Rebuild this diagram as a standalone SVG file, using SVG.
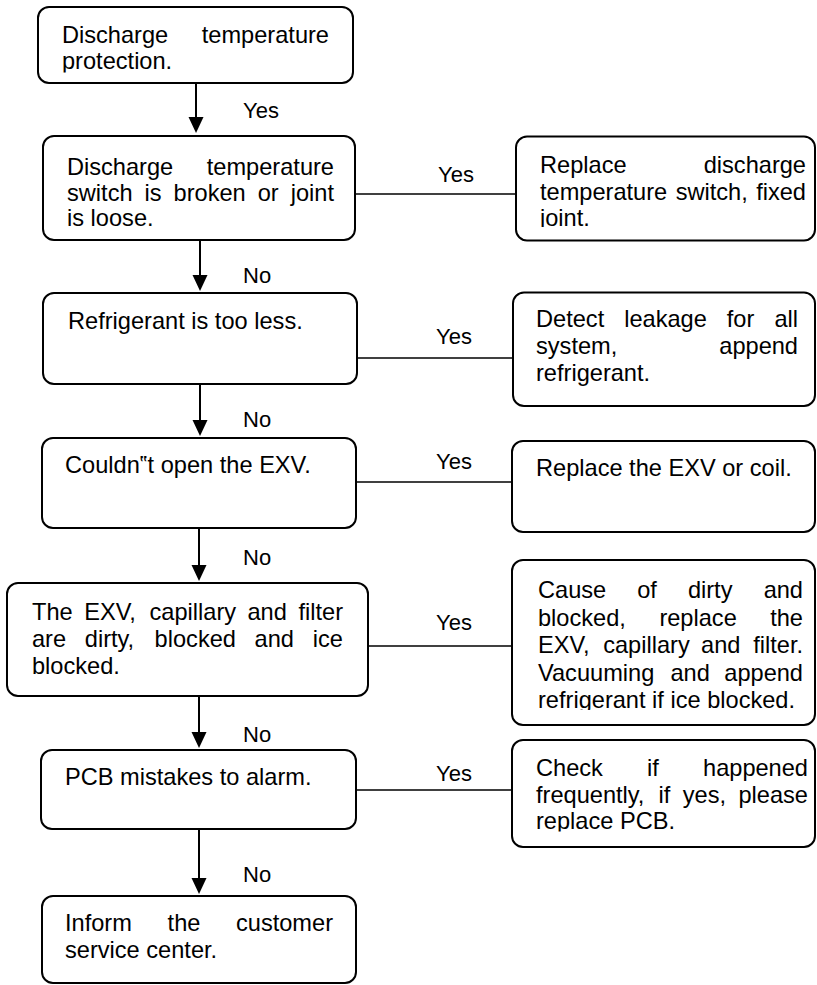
<svg xmlns="http://www.w3.org/2000/svg" width="817" height="985" viewBox="0 0 817 985">
<style>
.box{fill:#fff;stroke:#000;stroke-width:2}
.t{font-family:"Liberation Sans",Arial,sans-serif;font-size:23.6px;fill:#000}
.lbl{font-family:"Liberation Sans",Arial,sans-serif;font-size:22px;fill:#000}
.e{text-anchor:end}
.arrow{stroke:#000;stroke-width:2;fill:none;marker-end:url(#ah)}
.h{stroke:#000;stroke-width:1.6;fill:none}
</style>
<defs>
<marker id="ah" markerUnits="userSpaceOnUse" markerWidth="16" markerHeight="16" refX="8" refY="8" orient="auto">
<path d="M0,0.5 L16,8 L0,15.5 z" fill="#000"/>
</marker>
<clipPath id="c1"><rect x="38" y="7" width="315" height="65.5"/></clipPath>
<clipPath id="c2"><rect x="43" y="136" width="312" height="91.5"/></clipPath>
<clipPath id="c3"><rect x="516" y="136" width="300" height="91"/></clipPath>
<clipPath id="c4"><rect x="512" y="560" width="304" height="150"/></clipPath>
<clipPath id="c5"><rect x="512" y="740" width="304" height="91.5"/></clipPath>
</defs>
<rect width="817" height="985" fill="#fff"/>

<g id="connectors">
<line class="arrow" x1="196" y1="83" x2="196" y2="125"/>
<line class="arrow" x1="200" y1="240" x2="200" y2="283"/>
<line class="arrow" x1="200" y1="384" x2="200" y2="428"/>
<line class="arrow" x1="199" y1="528" x2="199" y2="573"/>
<line class="arrow" x1="199" y1="696" x2="199" y2="740"/>
<line class="arrow" x1="199" y1="829" x2="199" y2="886"/>
<line class="h" x1="355" y1="194" x2="516" y2="194"/>
<line class="h" x1="357" y1="358" x2="513" y2="358"/>
<line class="h" x1="356" y1="482" x2="512" y2="482"/>
<line class="h" x1="368" y1="646" x2="512" y2="646"/>
<line class="h" x1="356" y1="790" x2="512" y2="790"/>
<text class="lbl" x="243" y="118">Yes</text>
<text class="lbl" x="243" y="283">No</text>
<text class="lbl" x="243" y="427">No</text>
<text class="lbl" x="243" y="565">No</text>
<text class="lbl" x="243" y="742">No</text>
<text class="lbl" x="243" y="882">No</text>
<text class="lbl" x="438" y="182">Yes</text>
<text class="lbl" x="436" y="344">Yes</text>
<text class="lbl" x="436" y="469">Yes</text>
<text class="lbl" x="436" y="630">Yes</text>
<text class="lbl" x="436" y="781">Yes</text>
</g>

<g id="n1">
<rect class="box" x="38" y="7" width="315" height="76" rx="11"/>
<g clip-path="url(#c1)">
<text class="t" x="62" y="42.5">Discharge</text>
<text class="t e" x="329" y="42.5">temperature</text>
<text class="t" x="62" y="69">protection.</text>
</g>
</g>

<g id="n2">
<rect class="box" x="43" y="136" width="312" height="104" rx="11"/>
<g clip-path="url(#c2)">
<text class="t" x="67" y="175">Discharge</text>
<text class="t e" x="334" y="175">temperature</text>
<text class="t" y="200.5"><tspan x="67">switch</tspan><tspan x="144.6">is</tspan><tspan x="173.6">broken</tspan><tspan x="257.7">or</tspan></text>
<text class="t e" x="334" y="200.5">joint</text>
<text class="t" x="67" y="226">is loose.</text>
</g>
</g>

<g id="n3">
<rect class="box" x="43" y="293" width="314" height="91" rx="11"/>
<text class="t" x="68" y="329">Refrigerant is too less.</text>
</g>

<g id="n4">
<rect class="box" x="42" y="438" width="314" height="90" rx="11"/>
<text class="t" x="65" y="473">Couldn‟t open the EXV.</text>
</g>

<g id="n5">
<rect class="box" x="7" y="583" width="361" height="113" rx="11"/>
<text class="t" y="620"><tspan x="32">The</tspan><tspan x="84.2">EXV,</tspan><tspan x="149.5">capillary</tspan><tspan x="247.5">and</tspan></text>
<text class="t e" x="343" y="620">filter</text>
<text class="t" y="647"><tspan x="32">are</tspan><tspan x="84.8">dirty,</tspan><tspan x="154.6">blocked</tspan><tspan x="254.6">and</tspan></text>
<text class="t e" x="343" y="647">ice</text>
<text class="t" x="32" y="674">blocked.</text>
</g>

<g id="n6">
<rect class="box" x="41" y="750" width="315" height="79" rx="11"/>
<text class="t" x="65" y="784.5">PCB mistakes to alarm.</text>
</g>

<g id="n7">
<rect class="box" x="42" y="896" width="314" height="87" rx="11"/>
<text class="t" y="930.5"><tspan x="65">Inform</tspan><tspan x="167.6">the</tspan></text>
<text class="t e" x="333" y="930.5">customer</text>
<text class="t" x="65" y="958">service center.</text>
</g>

<g id="r1">
<rect class="box" x="516" y="136.5" width="299" height="104" rx="11"/>
<g clip-path="url(#c3)">
<text class="t" x="540" y="173">Replace</text>
<text class="t e" x="806" y="173">discharge</text>
<text class="t" y="199.5"><tspan x="540">temperature</tspan><tspan x="675.7">switch,</tspan></text>
<text class="t e" x="806" y="199.5">fixed</text>
<text class="t" x="540" y="225.5">joint.</text>
</g>
</g>

<g id="r2">
<rect class="box" x="513" y="292.5" width="302" height="113.5" rx="11"/>
<text class="t" y="327"><tspan x="536">Detect</tspan><tspan x="624.2">leakage</tspan><tspan x="726.8">for</tspan></text>
<text class="t e" x="798" y="327">all</text>
<text class="t" x="536" y="354">system,</text>
<text class="t e" x="798" y="354">append</text>
<text class="t" x="536" y="381">refrigerant.</text>
</g>

<g id="r3">
<rect class="box" x="512" y="441" width="303" height="91" rx="11"/>
<text class="t" x="536" y="476">Replace the EXV or coil.</text>
</g>

<g id="r4">
<rect class="box" x="512" y="560" width="303" height="165" rx="11"/>
<g clip-path="url(#c4)">
<text class="t" y="598"><tspan x="538">Cause</tspan><tspan x="637.2">of</tspan><tspan x="687.9">dirty</tspan></text>
<text class="t e" x="803" y="598">and</text>
<text class="t" y="625.5"><tspan x="538">blocked,</tspan><tspan x="659.4">replace</tspan></text>
<text class="t e" x="803" y="625.5">the</text>
<text class="t" y="653"><tspan x="538">EXV,</tspan><tspan x="603.2">capillary</tspan><tspan x="701.1">and</tspan></text>
<text class="t e" x="803" y="653">filter.</text>
<text class="t" y="680.5"><tspan x="538">Vacuuming</tspan><tspan x="670.5">and</tspan></text>
<text class="t e" x="803" y="680.5">append</text>
<text class="t" x="538" y="707.5">refrigerant if ice blocked.</text>
</g>
</g>

<g id="r5">
<rect class="box" x="512" y="740" width="303" height="107" rx="11"/>
<g clip-path="url(#c5)">
<text class="t" y="776"><tspan x="536">Check</tspan><tspan x="647">if</tspan></text>
<text class="t e" x="808" y="776">happened</text>
<text class="t" y="803"><tspan x="536">frequently,</tspan><tspan x="658.6">if</tspan><tspan x="682.8">yes,</tspan></text>
<text class="t e" x="808" y="803">please</text>
<text class="t" x="536" y="829">replace PCB.</text>
</g>
</g>
</svg>
